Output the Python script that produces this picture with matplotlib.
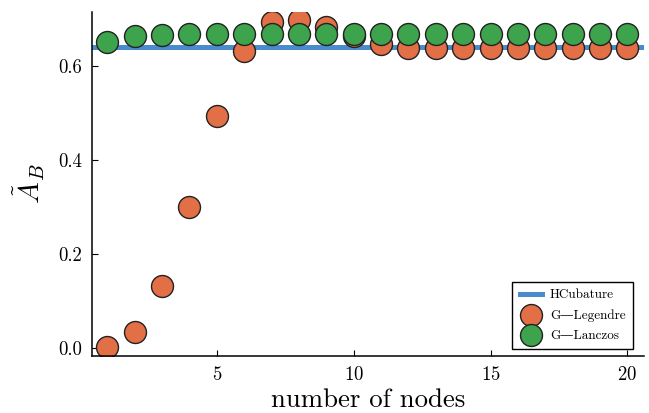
import matplotlib
matplotlib.use("Agg")
import matplotlib.pyplot as plt

# valores
nodes = list(range(1, 21))
hcubature = 0.640
legendre = [0.003, 0.035, 0.131, 0.301, 0.493, 0.631, 0.693, 0.698, 0.684, 0.663,
            0.647, 0.638, 0.638, 0.638, 0.638, 0.638, 0.638, 0.638, 0.638, 0.638]
lanczos = [0.652, 0.664, 0.667, 0.668, 0.668, 0.668, 0.668, 0.668, 0.668, 0.668,
           0.668, 0.668, 0.668, 0.668, 0.668, 0.668, 0.668, 0.668, 0.668, 0.668]
yticks = [0.0, 0.2, 0.4, 0.6]
xticks = [5, 10, 15, 20]

plt.rcParams['font.family'] = ['cmr10', 'DejaVu Serif']
plt.rcParams['mathtext.fontset'] = 'cm'
plt.rcParams['axes.formatter.use_mathtext'] = True

fig = plt.figure(figsize=(6.49, 4.13), dpi=100)
ax = fig.add_axes([0.141, 0.138, 0.851, 0.833])

ax.axhline(hcubature, color='#4a8bcb', lw=3.6, label='HCubature', zorder=1)
ax.scatter(nodes, legendre, s=250, color='#e26f46', edgecolors='#222222',
           linewidths=1.0, label='G—Legendre', zorder=2)
ax.scatter(nodes, lanczos, s=250, color='#3da44d', edgecolors='#222222',
           linewidths=1.0, label='G—Lanczos', zorder=3)

ax.set_xlim(0.42, 20.6)
ax.set_ylim(-0.017, 0.715)
ax.set_xticks(xticks)
ax.set_yticks(yticks)
ax.set_yticklabels(['%.1f' % v for v in yticks])
ax.tick_params(direction='in', length=4, width=0.8, labelsize=13.5, pad=7)
ax.tick_params(axis='x', pad=7)

ax.spines['top'].set_visible(False)
ax.spines['right'].set_visible(False)
ax.spines['left'].set_linewidth(1.1)
ax.spines['bottom'].set_linewidth(1.1)

ax.set_xlabel('number of nodes', fontsize=19.3, labelpad=3)
ax.set_ylabel(r'$\tilde{A}_B$', fontsize=21, labelpad=8)

leg = ax.legend(loc='lower right', bbox_to_anchor=(0.98, 0.02), borderaxespad=0,
                fontsize=9.5, frameon=True, fancybox=False, edgecolor='black',
                framealpha=1, markerscale=1.0, handlelength=1.7, handletextpad=0.6,
                borderpad=0.55, labelspacing=0.6)
leg.get_frame().set_linewidth(1.0)

fig.savefig('out.png', dpi=100)
